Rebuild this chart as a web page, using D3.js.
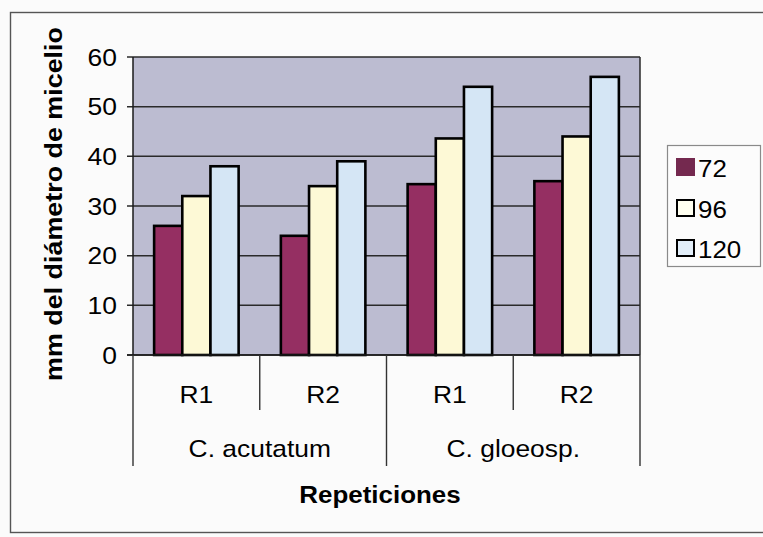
<!DOCTYPE html>
<html>
<head>
<meta charset="utf-8">
<script src="https://cdn.jsdelivr.net/npm/d3@7"></script>
<style>
  html, body { margin: 0; padding: 0; background: #fbfbfb; }
  svg { display: block; }
  text { font-family: "Liberation Sans", Arial, sans-serif; fill: #000; }
</style>
</head>
<body>
<svg id="chart" width="763" height="537"></svg>
<script>
// Mycelium diameter (mm) by repetition and hour of reading
const groups = ["C. acutatum", "C. gloeosp."];
const reps = ["R1", "R2"];
const categories = ["C. acutatum|R1", "C. acutatum|R2", "C. gloeosp.|R1", "C. gloeosp.|R2"];
const seriesNames = ["72", "96", "120"];
const values72 = [26, 24, 34.4, 35];
const values96 = [32, 34, 43.6, 44];
const values120 = [38, 39, 54, 56];
const yTicks = [0, 10, 20, 30, 40, 50, 60];
const yTitle = "mm del diámetro de micelio";
const xTitle = "Repeticiones";

const seriesValues = [values72, values96, values120];
const fills = ["#952f62", "#fdf9d6", "#d5e6f5"];
const legendFills = ["#74294f", "#fffff0", "#e2eef9"];

const svg = d3.select("#chart");
const plot = { left: 133, right: 640, top: 57, bottom: 355 };

// Outer chart frame
svg.append("rect")
  .attr("x", 10.5).attr("y", 12.5)
  .attr("width", 770).attr("height", 520)
  .attr("fill", "#fbfbfb").attr("stroke", "#555").attr("stroke-width", 1.4);

const x0 = d3.scaleBand().domain(categories).range([plot.left, plot.right]).paddingInner(0).paddingOuter(0);
const x1 = d3.scaleBand().domain(seriesNames).range([0, x0.bandwidth()]).paddingInner(0).paddingOuter(0.75);
const y = d3.scaleLinear().domain([0, 60]).range([plot.bottom, plot.top]);

// Plot background
svg.append("rect")
  .attr("x", plot.left).attr("y", plot.top)
  .attr("width", plot.right - plot.left).attr("height", plot.bottom - plot.top)
  .attr("fill", "#bcbcd1");

// Gridlines and y ticks
svg.append("g")
  .selectAll("line").data(yTicks).join("line")
  .attr("x1", plot.left - 6).attr("x2", plot.right)
  .attr("y1", d => y(d)).attr("y2", d => y(d))
  .attr("stroke", "#2a2a2a").attr("stroke-width", 1.5);

// Plot border (right side)
svg.append("line")
  .attr("x1", plot.right).attr("x2", plot.right)
  .attr("y1", plot.top).attr("y2", plot.bottom)
  .attr("stroke", "#2a2a2a").attr("stroke-width", 1.5);

// Text helper: slightly widened Arial-like glyphs
function label(parent, x, yPos, str, opts) {
  const o = Object.assign({ size: 24, anchor: "middle", weight: "normal", rotate: 0, sx: 1.1 }, opts || {});
  const g = parent.append("g")
    .attr("transform", `translate(${x},${yPos}) rotate(${o.rotate}) scale(${o.sx},1)`);
  g.append("text")
    .attr("text-anchor", o.anchor)
    .attr("font-size", o.size)
    .attr("font-weight", o.weight)
    .text(str);
  return g;
}

// Y tick labels
yTicks.forEach(t => label(svg, 117, y(t) + 8.5, String(t), { anchor: "end", size: 24.5, sx: 1.08 }));

// Bars
const barG = svg.append("g");
categories.forEach((c, i) => {
  barG.selectAll(null)
    .data(seriesNames.map((s, k) => ({ s, k, v: seriesValues[k][i] })))
    .join("rect")
    .attr("x", d => x0(c) + x1(d.s))
    .attr("y", d => y(d.v))
    .attr("width", x1.bandwidth())
    .attr("height", d => y(0) - y(d.v))
    .attr("fill", d => fills[d.k])
    .attr("stroke", "#000")
    .attr("stroke-width", 2.6);
});

// Y axis and x axis
svg.append("line")
  .attr("x1", plot.left).attr("x2", plot.left)
  .attr("y1", plot.top).attr("y2", plot.bottom)
  .attr("stroke", "#1a1a1a").attr("stroke-width", 1.5);
svg.append("line")
  .attr("x1", plot.left - 6).attr("x2", plot.right)
  .attr("y1", plot.bottom).attr("y2", plot.bottom)
  .attr("stroke", "#1a1a1a").attr("stroke-width", 1.6);

// Multi-level category axis: separators
const boundaries = categories.map(c => x0(c)).concat([plot.right]);
boundaries.forEach((bx, i) => {
  const outer = i % 2 === 0;
  svg.append("line")
    .attr("x1", bx).attr("x2", bx)
    .attr("y1", plot.bottom).attr("y2", outer ? 466 : 410)
    .attr("stroke", "#333").attr("stroke-width", 1.4);
});

// Inner labels (R1, R2) and group labels
categories.forEach(c => {
  const rep = c.split("|")[1];
  label(svg, x0(c) + x0.bandwidth() / 2, 403, rep, { size: 24 });
});
groups.forEach((gname, gi) => {
  const first = x0(categories[gi * 2]);
  const last = x0(categories[gi * 2 + 1]) + x0.bandwidth();
  label(svg, (first + last) / 2, 457, gname, { size: 24 });
});

// Axis titles
label(svg, 380, 503, xTitle, { size: 24, weight: "bold", sx: 1.08 });
label(svg, 62, 204, yTitle, { size: 24, weight: "bold", rotate: -90, sx: 1.12 });

// Legend
const lg = svg.append("g");
lg.append("rect")
  .attr("x", 667.5).attr("y", 145.5).attr("width", 93).attr("height", 121)
  .attr("fill", "#fcfcfc").attr("stroke", "#8a8a8a").attr("stroke-width", 1.2);
const legendY = [158, 199, 239];
seriesNames.forEach((s, k) => {
  lg.append("rect")
    .attr("x", k === 0 ? 676 : 677).attr("y", k === 0 ? legendY[k] : legendY[k] + 1)
    .attr("width", k === 0 ? 19 : 17).attr("height", k === 0 ? 18 : 16)
    .attr("fill", legendFills[k])
    .attr("stroke", k === 0 ? "none" : "#000")
    .attr("stroke-width", 2);
  label(lg, 698, legendY[k] + 19, s, { size: 24, anchor: "start", sx: 1.08 });
});
</script>
</body>
</html>
